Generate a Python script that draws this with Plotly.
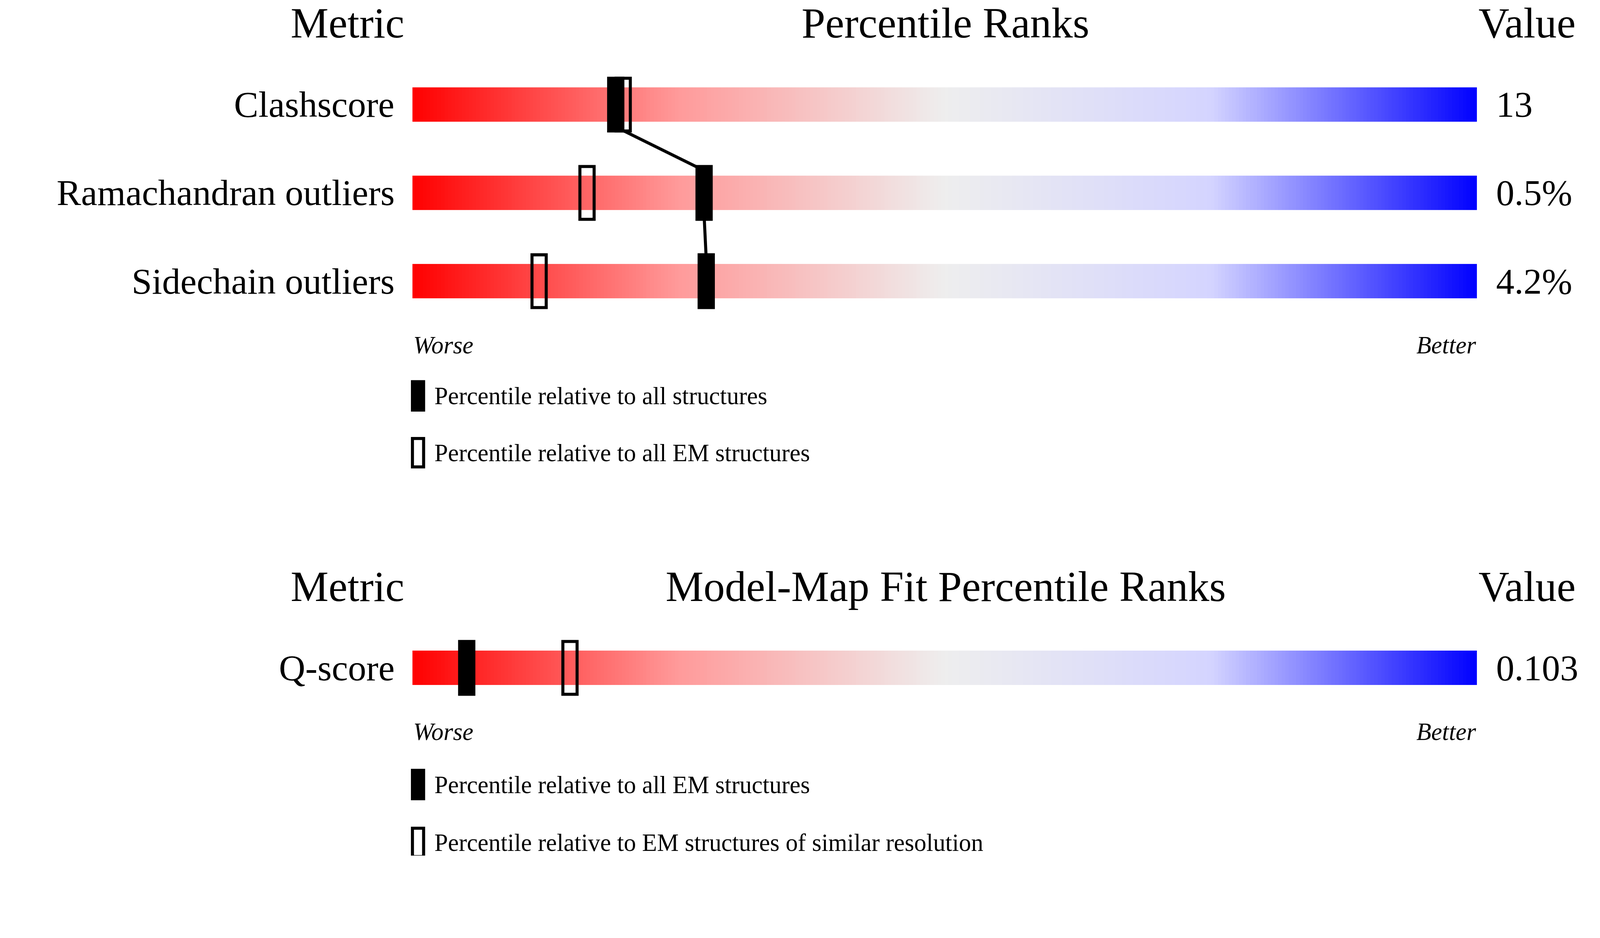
import numpy as np
import plotly.graph_objects as go

metrics = ["Clashscore", "Ramachandran outliers", "Sidechain outliers"]
values = ["13", "0.5%", "4.2%"]
pct_all = [19.1, 27.4, 27.6]
pct_em = [19.8, 16.4, 11.9]
fit_metrics = ["Q-score"]
fit_values = ["0.103"]
fit_pct_em = [5.1]
fit_pct_res = [14.8]

W, H = 4077, 2183
S = W / 1568
FONT = "Liberation Serif"
x0 = -403 / 1048 * 100
x1 = (1568 - 403) / 1048 * 100
def px(d):  # display px -> percentile coordinate
    return (d - 403) / 1048 * 100

fig = go.Figure()
cs = [[0, "#ff0000"], [0.25, "#ff9a9a"], [0.5, "#eeeeee"], [0.75, "#d4d4ff"], [1, "#0000ff"]]
edges = np.linspace(0, 100, 301)
zrow = [((edges[:-1] + edges[1:]) / 2).tolist()]
ann = []
shapes = []
mw = 14 / 1048 * 100

def bar(yc, label, val):
    fig.add_trace(go.Heatmap(x=edges, y=[yc - 17, yc + 17], z=zrow, colorscale=cs,
                             zmin=0, zmax=100, showscale=False, hoverinfo="skip"))
    ann.append(dict(x=px(386), y=yc, text=label, xanchor="right", yanchor="middle",
                    font=dict(size=36 * S)))
    ann.append(dict(x=px(1469), y=yc, text=val, xanchor="left", yanchor="middle",
                    font=dict(size=36 * S)))

def marker(p, yc, filled):
    shapes.append(dict(type="rect", x0=p - mw / 2, x1=p + mw / 2, y0=yc - 26, y1=yc + 26,
                       fillcolor="black" if filled else "rgba(0,0,0,0)",
                       line=dict(color="black", width=3 * S)))

def header(y, mid):
    ann.append(dict(x=px(339), y=y, text="Metric", xanchor="center", yanchor="middle", font=dict(size=42 * S)))
    ann.append(dict(x=px(928), y=y, text=mid, xanchor="center", yanchor="middle", font=dict(size=42 * S)))
    ann.append(dict(x=px(1452), y=y, text="Value", xanchor="left", yanchor="middle", font=dict(size=42 * S)))

def worse_better(y):
    ann.append(dict(x=0, y=y, text="<i>Worse</i>", xanchor="left", yanchor="middle", font=dict(size=24 * S)))
    ann.append(dict(x=100, y=y, text="<i>Better</i>", xanchor="right", yanchor="middle", font=dict(size=24 * S)))

def legend(y, txt, filled):
    shapes.append(dict(type="rect", x0=px(403), x1=px(414), y0=y - 14, y1=y + 14,
                       fillcolor="black" if filled else "rgba(0,0,0,0)",
                       line=dict(color="black", width=3 * S)))
    ann.append(dict(x=px(424), y=y, text=txt, xanchor="left", yanchor="middle", font=dict(size=24 * S)))

header(20, "Percentile Ranks")
ys = [100, 187, 274]
for yc, m, v, pa, pe in zip(ys, metrics, values, pct_all, pct_em):
    bar(yc, m, v)
    marker(pe, yc, False)
    marker(pa, yc, True)
fig.add_trace(go.Scatter(x=[pct_all[0], pct_all[1], pct_all[1], pct_all[2]],
                         y=[ys[0] + 22, ys[1] - 22, ys[1] + 22, ys[2] - 22], mode="lines",
                         line=dict(color="black", width=3 * S), hoverinfo="skip"))
worse_better(337)
legend(387, "Percentile relative to all structures", True)
legend(443, "Percentile relative to all EM structures", False)

header(575, "Model-Map Fit Percentile Ranks")
bar(655, fit_metrics[0], fit_values[0])
marker(fit_pct_res[0], 655, False)
marker(fit_pct_em[0], 655, True)
worse_better(718)
legend(770, "Percentile relative to all EM structures", True)
legend(827, "Percentile relative to EM structures of similar resolution", False)

for a in ann:
    a.update(showarrow=False, xref="x", yref="y")
fig.update_layout(width=W, height=H, margin=dict(l=0, r=0, t=0, b=0),
                  paper_bgcolor="white", plot_bgcolor="white", showlegend=False,
                  font=dict(family=FONT, color="black"),
                  annotations=ann, shapes=shapes,
                  xaxis=dict(range=[x0, x1], visible=False, fixedrange=True),
                  yaxis=dict(range=[840, 0], visible=False, fixedrange=True))
fig.write_html("out.html")
